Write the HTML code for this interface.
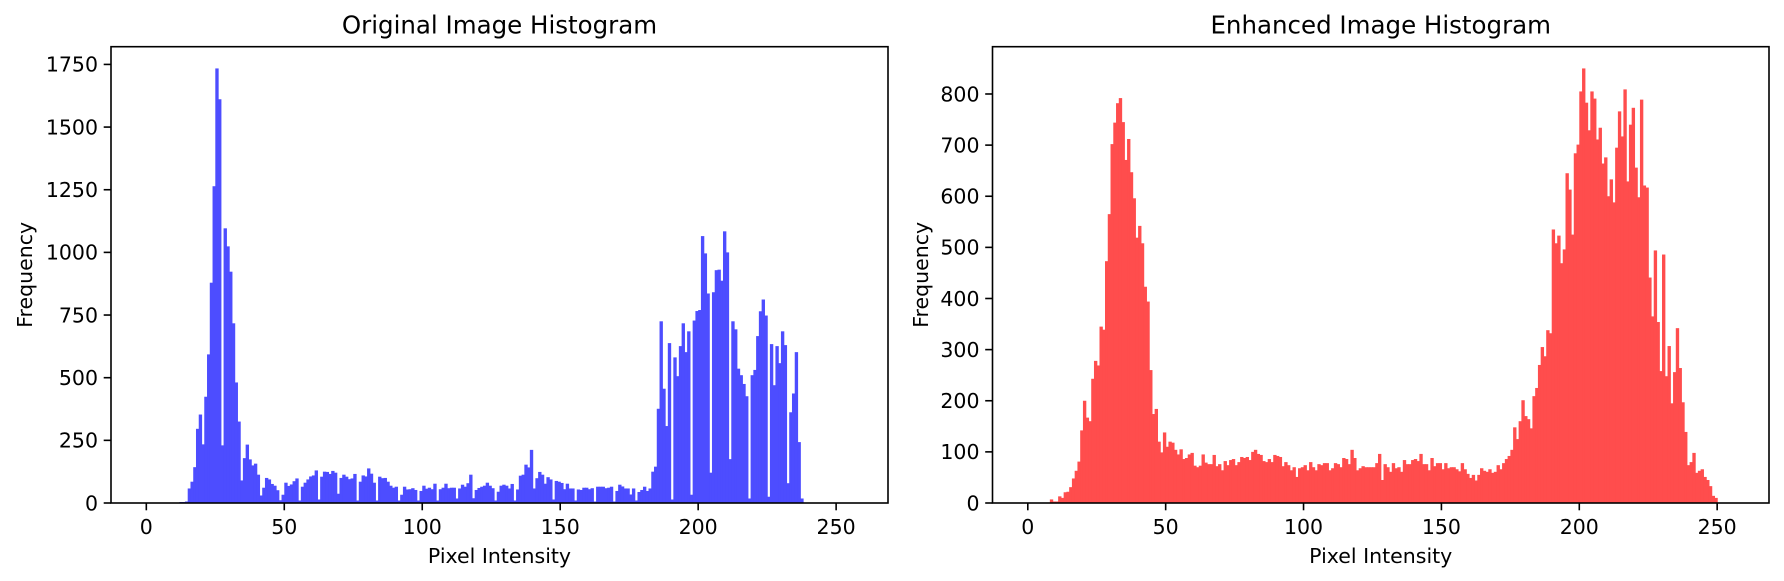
<!DOCTYPE html>
<html><head><meta charset="utf-8">
<style>
html,body{margin:0;padding:0;background:#fff;}
svg{display:block;font-family:"DejaVu Sans","Liberation Sans",sans-serif;}
</style></head>
<body>
<svg id="fig" width="1784" height="581" viewBox="0 0 1784 581" xmlns="http://www.w3.org/2000/svg">
<rect width="1784" height="581" fill="#fff"/>
</svg>
<script>
// ---- data ----
const binEdgesStart = 0;
const origCounts = [0,0,0,0,0,0,0,0,0,0,0,0,
4,4,6,58,85,143,296,353,234,424,593,879,1264,1734,1611,230,1096,1024,923,717,481,325,90,179,233,174,150,157,113,30,61,100,94,76,69,51,11,33,81,68,74,87,98,10,65,81,94,106,110,130,14,105,125,124,116,128,121,37,100,113,105,95,98,116,10,85,110,106,138,117,81,10,105,99,100,85,69,61,65,10,33,65,54,55,59,52,10,48,69,57,61,55,77,10,55,61,77,59,61,61,18,58,73,65,79,113,19,52,60,
65,69,81,69,59,10,45,69,73,69,58,76,10,54,109,113,153,142,212,58,99,124,113,77,103,94,14,88,85,80,55,77,58,58,10,54,52,61,61,55,59,6,65,65,65,59,61,65,6,48,73,66,58,58,34,58,10,44,52,65,48,58,125,145,376,725,456,307,638,14,581,506,626,717,602,685,33,728,766,770,1065,996,836,121,841,929,931,887,1084,1000,175,725,693,536,510,475,426,18,510,531,666,765,812,748,25,634,470,626,558,685,630,79,362,437,602,243,18,0];
const enhCounts = [0,0,0,0,0,0,0,0,
7,3,3,13,10,21,22,31,48,63,81,142,200,167,160,243,278,269,345,339,473,565,702,744,782,792,745,671,712,647,596,519,542,508,423,394,260,174,184,120,99,138,110,120,118,104,95,105,86,88,95,98,73,70,73,95,79,
76,76,94,72,76,64,82,74,84,86,74,80,90,88,90,84,100,104,96,94,82,80,86,80,94,92,90,72,80,74,64,70,51,68,70,74,64,80,70,64,76,74,78,78,64,68,78,76,70,88,86,76,104,88,64,68,72,70,70,70,70,78,96,45,76,70,61,78,68,70,61,84,76,76,84,86,82,96,76,76,64,88,72,78,78,66,78,68,70,70,66,62,78,66,57,
49,55,44,55,68,63,61,66,59,61,74,66,78,86,92,104,148,125,160,201,170,164,146,209,225,270,305,287,338,332,535,508,523,469,496,645,613,525,684,701,805,850,783,729,805,791,711,734,664,676,600,633,588,695,766,717,809,629,740,773,656,598,789,621,617,441,365,494,354,258,486,248,307,195,256,342,264,197,139,74,80,98,59,63,66,51,45,33,14,10];
const xTicks = [0,50,100,150,200,250];
const origYTicks = [0,250,500,750,1000,1250,1500,1750];
const enhYTicks = [0,100,200,300,400,500,600,700,800];
const titles = ["Original Image Histogram","Enhanced Image Histogram"];

// ---- drawing ----
const NS = "http://www.w3.org/2000/svg";
const svg = document.getElementById('fig');
function mk(tag, attrs, parent){
  const e = document.createElementNS(NS, tag);
  for (const k in attrs) e.setAttribute(k, attrs[k]);
  (parent||svg).appendChild(e);
  return e;
}
function maxOf(a){return Math.max.apply(null,a);}

function panel(cfg){
  const {x0,x1,y0,y1,counts,yTicks,color,title,key} = cfg;
  const g = mk('g',{});
  
  
  const nb = counts.length;
  const xmin = -0.05*256, xmax = 256+0.05*256;
  const ymax = maxOf(counts)*1.05;
  const sx = v => x0 + (v - xmin)/(xmax - xmin)*(x1 - x0);
  const sy = v => y1 - v/ymax*(y1 - y0);
  const bars = mk('g',{},g);
  
  
  for (let i=0;i<nb;i++){
    const c = counts[i];
    if (c<=0) continue;
    const r = mk('rect',{x:sx(binEdgesStart+i),y:sy(c),width:sx(i+1)-sx(i)+0.6,height:y1-sy(c),fill:color},bars);
    
    
  }
  const fr = mk('rect',{x:x0,y:y0,width:x1-x0,height:y1-y0,fill:'none',stroke:'#000','stroke-width':1.6},g);
  
  
  xTicks.forEach(t=>{
    const x = sx(t);
    const tk = mk('line',{x1:x,x2:x,y1:y1,y2:y1+7.3,stroke:'#000','stroke-width':1.6},g);
    
    
    const tx = mk('text',{x:x,y:y1+31,'text-anchor':'middle','font-size':20.5,fill:'#000'},g);
    tx.textContent = t;
    
    
  });
  yTicks.forEach(t=>{
    const y = sy(t);
    const tk = mk('line',{x1:x0-7.3,x2:x0,y1:y,y2:y,stroke:'#000','stroke-width':1.6},g);
    
    
    const tx = mk('text',{x:x0-13,y:y+7.3,'text-anchor':'end','font-size':20.5,fill:'#000'},g);
    tx.textContent = t;
    
    
  });
  const tt = mk('text',{x:(x0+x1)/2,y:y0-13,'text-anchor':'middle','font-size':24.5,fill:'#000'},g);
  tt.textContent = title;
  
  
  const xl = mk('text',{x:(x0+x1)/2,y:563,'text-anchor':'middle','font-size':20.5,fill:'#000'},g);
  xl.textContent = 'Pixel Intensity';
  
  
  const lx = cfg.ylabelX, ly = (y0+y1)/2;
  const yl = mk('text',{x:lx,y:ly,'text-anchor':'middle','font-size':20.5,fill:'#000',transform:'rotate(-90 '+lx+' '+ly+')'},g);
  yl.textContent = 'Frequency';
  
  
}

panel({x0:111,x1:888,y0:46.7,y1:503,counts:origCounts,yTicks:origYTicks,color:'#4d4dff',title:titles[0],key:'original',ylabelX:32});
panel({x0:992.5,x1:1769,y0:46.7,y1:503,counts:enhCounts,yTicks:enhYTicks,color:'#ff4d4d',title:titles[1],key:'enhanced',ylabelX:928});
</script>
</body></html>
